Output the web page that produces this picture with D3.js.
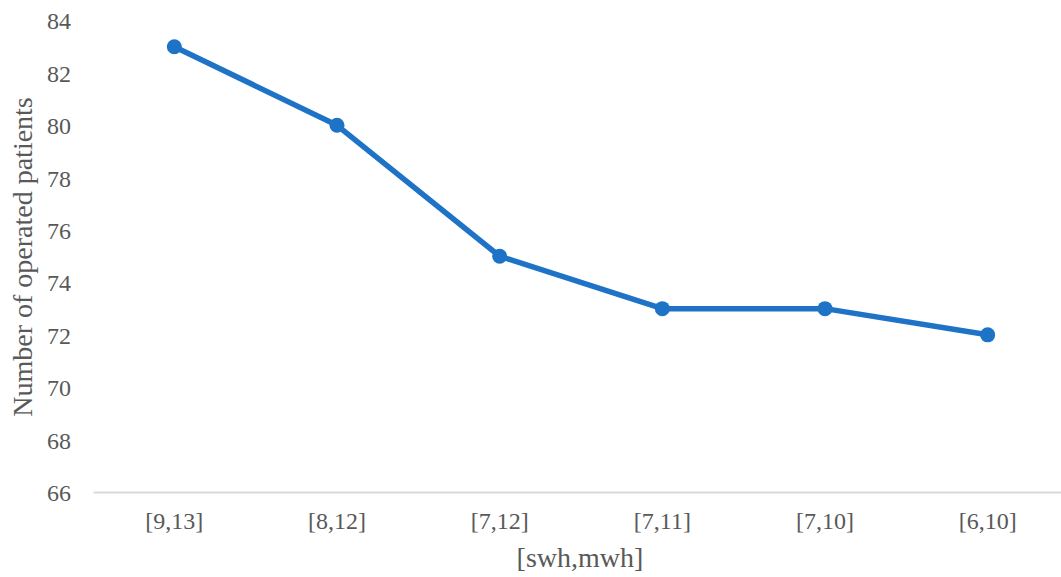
<!DOCTYPE html>
<html>
<head>
<meta charset="utf-8">
<script src="https://cdn.jsdelivr.net/npm/d3@7"></script>
<style>
  html, body { margin: 0; padding: 0; background: #fff; }
  svg { display: block; }
</style>
</head>
<body>
<svg id="chart" width="1061" height="577"></svg>
<script>
// Patients operated for each [swh,mwh] setting
const categories = ["[9,13]", "[8,12]", "[7,12]", "[7,11]", "[7,10]", "[6,10]"];
const patients = [83, 80, 75, 73, 73, 72];
const yTicks = [66, 68, 70, 72, 74, 76, 78, 80, 82, 84];
const xTitle = "[swh,mwh]";
const yTitle = "Number of operated patients";

const FONT = "'Times New Roman', 'Liberation Serif', Tinos, serif";
const TEXT = "#595959";

const svg = d3.select("#chart");
const margin = { left: 93, right: -8, top: 20.5, bottom: 85 };
const W = 1061, H = 577;

const x = d3.scaleBand()
  .domain(categories)
  .range([margin.left, W - margin.right]);

const y = d3.scaleLinear()
  .domain([66, 84])
  .range([H - margin.bottom, margin.top]);

const blue = "#1f73c7";

// Horizontal category axis line
const xAxis = svg.append("g")
  .attr("transform", `translate(0,${y(66)})`)
  .call(d3.axisBottom(x).tickSize(0).tickPadding(0));
xAxis.attr("font-family", null).attr("font-size", null);
xAxis.select(".domain").attr("stroke", "#d9d9d9").attr("stroke-width", 2);
xAxis.selectAll(".tick text")
  .attr("dy", null)
  .attr("y", 37)
  .style("font-family", FONT)
  .style("font-size", "24px")
  .style("fill", TEXT);

// Value axis labels (no axis line)
const yAxis = svg.append("g")
  .attr("transform", `translate(71,0)`)
  .call(d3.axisLeft(y).tickValues(yTicks).tickSize(0).tickPadding(0));
yAxis.attr("font-family", null).attr("font-size", null);
yAxis.select(".domain").remove();
yAxis.selectAll(".tick text")
  .attr("dy", "0.35em")
  .style("font-family", FONT)
  .style("font-size", "24px")
  .style("fill", TEXT);

// Axis titles
svg.append("text")
  .attr("x", 580)
  .attr("y", 567)
  .attr("text-anchor", "middle")
  .style("font-family", FONT)
  .style("font-size", "28px")
  .style("fill", TEXT)
  .text(xTitle);

svg.append("text")
  .attr("transform", `translate(32,257) rotate(-90)`)
  .attr("text-anchor", "middle")
  .style("font-family", FONT)
  .style("font-size", "28px")
  .style("fill", TEXT)
  .text(yTitle);

// Series line
const line = d3.line()
  .x((d, i) => x(categories[i]) + x.bandwidth() / 2)
  .y(d => y(d));

svg.append("path")
  .datum(patients)
  .attr("d", line)
  .attr("fill", "none")
  .attr("stroke", blue)
  .attr("stroke-width", 5.5)
  .attr("stroke-linejoin", "round")
  .attr("stroke-linecap", "round");

// Markers
svg.append("g")
  .selectAll("circle")
  .data(patients)
  .join("circle")
  .attr("cx", (d, i) => x(categories[i]) + x.bandwidth() / 2)
  .attr("cy", d => y(d))
  .attr("r", 7.5)
  .attr("fill", blue);
</script>
</body>
</html>
